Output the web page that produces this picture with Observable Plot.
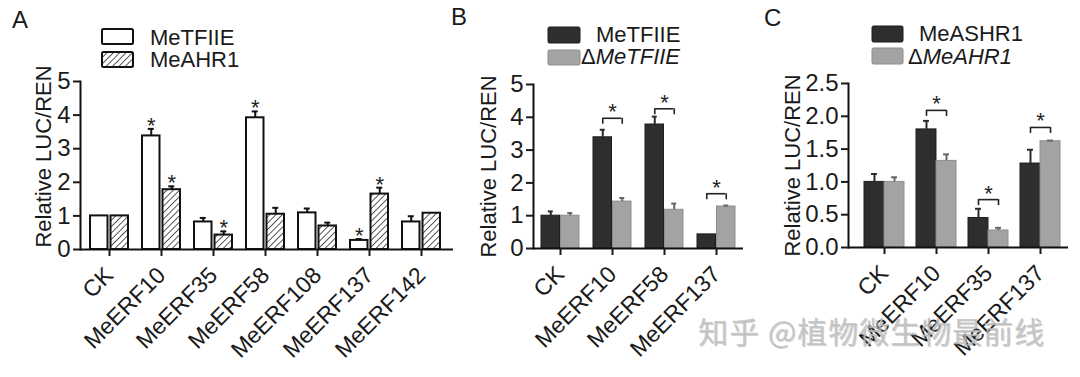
<!DOCTYPE html>
<html><head><meta charset="utf-8">
<script src="https://cdn.jsdelivr.net/npm/d3@7"></script>
<script src="https://cdn.jsdelivr.net/npm/@observablehq/plot@0.6"></script>
<style>
body{margin:0;background:#fff;}
#wrap{position:relative;width:1080px;height:377px;overflow:hidden;background:#fff;font-family:"Liberation Sans",Arial,sans-serif;}
.panel{position:absolute;top:0;}
#overlay{position:absolute;left:0;top:0;pointer-events:none;}
#wm{position:absolute;left:698px;top:308px;font-family:"Noto Sans CJK SC",sans-serif;font-size:30px;color:rgba(190,190,190,0.8);text-shadow:1px 1px 0 rgba(130,130,130,0.35);white-space:pre;letter-spacing:1px;}
</style>
</head><body>
<div id="wrap">
  <div class="panel" id="pA" style="left:0"></div>
  <div class="panel" id="pB" style="left:460px"></div>
  <div class="panel" id="pC" style="left:750px"></div>
  <svg id="overlay" width="1080" height="377"></svg>
  <div id="wm"></div>
</div>
<script>
// ---------- Panel A ----------
const catsA = ["CK","MeERF10","MeERF35","MeERF58","MeERF108","MeERF137","MeERF142"];
const seriesA = ["MeTFIIE","MeAHR1"];
const aTFIIE    = [1.0, 3.38, 0.82, 3.92, 1.09, 0.27, 0.82];
const aTFIIEErr = [0, 0.21, 0.12, 0.19, 0.13, 0.04, 0.17];
const aAHR1     = [1.0, 1.78, 0.43, 1.05, 0.70, 1.65, 1.08];
const aAHR1Err  = [0, 0.10, 0.11, 0.19, 0.10, 0.19, 0];
const aSigTFIIE = [false, true, false, true, false, true, false];
const aSigAHR1  = [false, true, true, false, false, true, false];
const aYTicks = [0,1,2,3,4,5];

// ---------- Panel B ----------
const catsB = ["CK","MeERF10","MeERF58","MeERF137"];
const seriesB = ["MeTFIIE","MeTFIIE"]; // second is ΔMeTFIIE
const bTFIIE     = [1.0, 3.39, 3.78, 0.43];
const bTFIIEErr  = [0.13, 0.23, 0.24, 0];
const bDTFIIE    = [1.0, 1.43, 1.18, 1.28];
const bDTFIIEErr = [0.08, 0.11, 0.19, 0.03];
const bBracket   = [null, 3.97, 4.26, 1.67];
const bYTicks = [0,1,2,3,4,5];

// ---------- Panel C ----------
const catsC = ["CK","MeERF10","MeERF35","MeERF137"];
const seriesC = ["MeASHR1","MeAHR1"]; // second is ΔMeAHR1
const cASHR1    = [1.0, 1.80, 0.45, 1.28];
const cASHR1Err = [0.12, 0.13, 0.14, 0.21];
const cDAHR1    = [1.0, 1.32, 0.26, 1.62];
const cDAHR1Err = [0.07, 0.10, 0.04, 0.01];
const cBracket  = [null, 2.09, 0.73, 1.83];
const cYTicks = [0, 0.5, 1.0, 1.5, 2.0, 2.5];

const yTitle = "Relative LUC/REN";
const FONT = "Liberation Sans, Arial, sans-serif";

function panel(o) {
  const n = o.cats.length;
  const plotW = o.width - o.ml - o.mr;
  const step = plotW / (n - o.pi + 2 * o.po);
  const bw = step * (1 - o.pi);
  const half = bw / 2;
  const barW = half - o.gap / 2;
  const c = o.gap / 2 + barW / 2;
  const capW = 6;
  const r1 = o.cats.map((cat, i) => ({cat, v: o.v1[i], top: o.v1[i] + o.e1[i], err: o.e1[i] > 0, sig: o.sig1 ? o.sig1[i] : false}));
  const r2 = o.cats.map((cat, i) => ({cat, v: o.v2[i], top: o.v2[i] + o.e2[i], err: o.e2[i] > 0, sig: o.sig2 ? o.sig2[i] : false}));
  const rb = o.bracket ? o.cats.map((cat, i) => ({cat, b: o.bracket[i]})).filter(d => d.b != null) : [];
  const marks = [
    Plot.barY(r1, {x: "cat", y: "v", fill: o.fill1, stroke: o.stroke1, strokeWidth: o.sw, insetRight: half + o.gap / 2}),
    Plot.barY(r2, {x: "cat", y: "v", fill: o.fill2, stroke: o.stroke2, strokeWidth: o.sw, insetLeft: half + o.gap / 2}),
    Plot.ruleX(r1.filter(d => d.err), {x: "cat", y1: "v", y2: "top", dx: -c, stroke: o.err1, strokeWidth: 2}),
    Plot.tickY(r1.filter(d => d.err), {x: "cat", y: "top", insetLeft: half - c - capW / 2, insetRight: half + c - capW / 2, stroke: o.err1, strokeWidth: 2}),
    Plot.ruleX(r2.filter(d => d.err), {x: "cat", y1: "v", y2: "top", dx: c, stroke: o.err2, strokeWidth: 2}),
    Plot.tickY(r2.filter(d => d.err), {x: "cat", y: "top", insetLeft: half + c - capW / 2, insetRight: half - c - capW / 2, stroke: o.err2, strokeWidth: 2}),
    Plot.text(r1.filter(d => d.sig), {x: "cat", y: "top", text: () => "*", dx: -c, dy: -3, fontSize: 22, fill: "#222"}),
    Plot.text(r2.filter(d => d.sig), {x: "cat", y: "top", text: () => "*", dx: c, dy: -3, fontSize: 22, fill: "#222"}),
    Plot.tickY(rb, {x: "cat", y: "b", insetLeft: half - c, insetRight: half - c, stroke: "#222", strokeWidth: 1.6}),
    Plot.ruleX(rb, {x: "cat", y1: "b", y2: "b", dx: -c, insetBottom: -6, stroke: "#222", strokeWidth: 1.6}),
    Plot.ruleX(rb, {x: "cat", y1: "b", y2: "b", dx: c, insetBottom: -6, stroke: "#222", strokeWidth: 1.6}),
    Plot.text(rb, {x: "cat", y: "b", text: () => "*", dy: -6, fontSize: 22, fill: "#222"}),
    Plot.ruleY([0], {strokeWidth: 2, stroke: "#111"}),
    Plot.frame({anchor: "left", strokeWidth: 2, stroke: "#111"}),
    Plot.axisY({ticks: o.yTicks, tickFormat: o.fmt, tickSize: 7, tickPadding: 3, fontSize: 24, strokeWidth: 2, label: null}),
    Plot.axisX({tickRotate: -45, tickSize: 7, tickPadding: 15, fontSize: 23, strokeWidth: 2, label: null}),
    Plot.text([yTitle], {text: d => d, frameAnchor: "left", textAnchor: "middle", rotate: -90, dx: o.tdx, dy: o.tdy, fontSize: 22, fill: "#1a1a1a"})
  ];
  return Plot.plot({
    width: o.width, height: 377,
    marginLeft: o.ml, marginRight: o.mr, marginTop: o.mt, marginBottom: o.mb,
    x: {domain: o.cats, paddingInner: o.pi, paddingOuter: o.po, align: o.align},
    y: {domain: [0, o.yMax]},
    style: {fontFamily: FONT, color: "#1a1a1a", background: "transparent", overflow: "visible"},
    marks
  });
}

document.getElementById("pA").append(panel({
  cats: catsA, v1: aTFIIE, e1: aTFIIEErr, v2: aAHR1, e2: aAHR1Err, sig1: aSigTFIIE, sig2: aSigAHR1,
  width: 460, ml: 80, mr: 7, mt: 81, mb: 128, pi: 0.2785, po: 0.18, align: 0.42, gap: 3,
  yMax: 5, yTicks: aYTicks, fmt: d3.format("d"),
  fill1: "white", stroke1: "#111", fill2: "url(#hatch)", stroke2: "#111", sw: 2, err1: "#111", err2: "#111",
  tdx: -37, tdy: -9
}));
document.getElementById("pB").append(panel({
  cats: catsB, v1: bTFIIE, e1: bTFIIEErr, v2: bDTFIIE, e2: bDTFIIEErr, bracket: bBracket,
  width: 290, ml: 73, mr: 7, mt: 84, mb: 129, pi: 0.26, po: 0.1225, align: 0.5, gap: 0,
  yMax: 5, yTicks: bYTicks, fmt: d3.format("d"),
  fill1: "#2e2e2e", stroke1: "#1c1c1c", fill2: "#a3a3a3", stroke2: "#8e8e8e", sw: 1, err1: "#2a2a2a", err2: "#666",
  tdx: -45, tdy: 0
}));
document.getElementById("pC").append(panel({
  cats: catsC, v1: cASHR1, e1: cASHR1Err, v2: cDAHR1, e2: cDAHR1Err, bracket: cBracket,
  width: 330, ml: 98, mr: 12, mt: 83, mb: 130, pi: 0.24, po: 0.2075, align: 0.64, gap: 0,
  yMax: 2.5, yTicks: cYTicks, fmt: d3.format(".1f"),
  fill1: "#2e2e2e", stroke1: "#1c1c1c", fill2: "#a3a3a3", stroke2: "#8e8e8e", sw: 1, err1: "#2a2a2a", err2: "#666",
  tdx: -56, tdy: 0
}));

// overlay: hatch pattern, legends, panel letters
const ov = d3.select("#overlay");
const defs = ov.append("defs");
const pat = defs.append("pattern").attr("id", "hatch").attr("patternUnits", "userSpaceOnUse")
  .attr("width", 4.5).attr("height", 4.5).attr("patternTransform", "rotate(45)");
pat.append("rect").attr("width", 4.5).attr("height", 4.5).attr("fill", "#fff");
pat.append("line").attr("x1", 0).attr("y1", 0).attr("x2", 0).attr("y2", 4.5).attr("stroke", "#111").attr("stroke-width", 1.4);

function letter(t, x, y) {
  ov.append("text").attr("x", x).attr("y", y).attr("font-family", FONT).attr("font-size", 24).attr("fill", "#1a1a1a").text(t);
}
letter("A", 12, 28); letter("B", 451, 25); letter("C", 764, 26);

function swatch(x, y, w, h, fill, stroke, sw) {
  ov.append("rect").attr("x", x).attr("y", y).attr("width", w).attr("height", h).attr("rx", 1.5)
    .attr("fill", fill).attr("stroke", stroke).attr("stroke-width", sw);
}
function label(x, y, parts) {
  const t = ov.append("text").attr("x", x).attr("y", y).attr("font-family", FONT).attr("font-size", 22).attr("fill", "#1a1a1a");
  parts.forEach(p => t.append("tspan").attr("font-style", p.italic ? "italic" : "normal").text(p.t));
}
// A legend
swatch(102, 29, 31, 15, "#fff", "#111", 2);
swatch(102, 52, 31, 15, "url(#hatch)", "#111", 2);
label(150, 45, [{t: seriesA[0]}]);
label(150, 67, [{t: seriesA[1]}]);
// B legend
swatch(548, 27, 32, 16, "#2e2e2e", "#1c1c1c", 1);
swatch(548, 50, 32, 15, "#a3a3a3", "#8e8e8e", 1);
label(596, 42, [{t: seriesB[0]}]);
label(581, 64, [{t: "Δ"}, {t: seriesB[1], italic: true}]);
// C legend
swatch(872, 26, 31, 16, "#2e2e2e", "#1c1c1c", 1);
swatch(872, 48, 31, 16, "#a3a3a3", "#8e8e8e", 1);
label(919, 41, [{t: seriesC[0]}]);
label(908, 64, [{t: "Δ"}, {t: seriesC[1], italic: true}]);

document.getElementById("wm").textContent = "知乎 @植物微生物最前线";
</script>
</body></html>
